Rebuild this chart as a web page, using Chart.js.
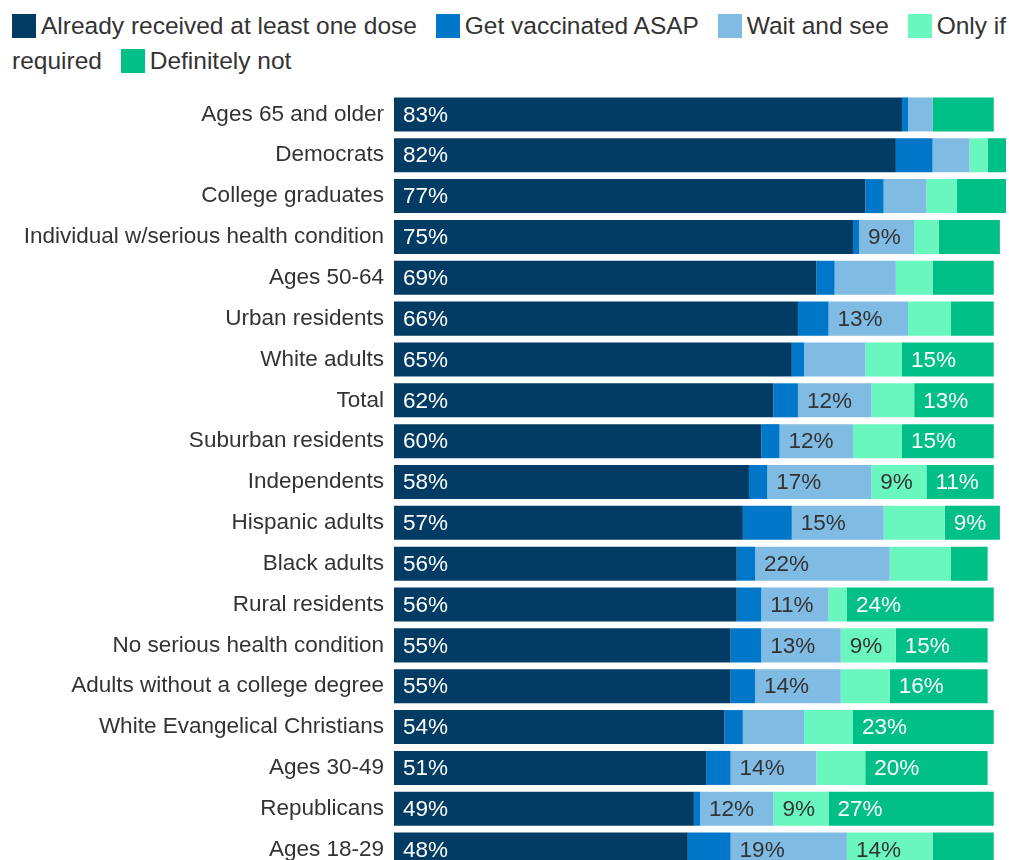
<!DOCTYPE html>
<html>
<head>
<meta charset="utf-8">
<script src="https://cdn.jsdelivr.net/npm/chart.js@4.4.1/dist/chart.umd.min.js"></script>
<style>
  html, body { margin: 0; padding: 0; background: #fff; overflow: hidden; }
  body { width: 1009px; height: 860px; position: relative; font-family: "Liberation Sans", Arial, sans-serif; }
  #legend { position: absolute; left: 12px; top: 8px; width: 1010px; font-size: 24.5px; line-height: 35px; color: #333; }
  #legend .item { margin-right: 12px; }
  #legend .sw { display: inline-block; width: 24px; height: 24px; vertical-align: -4px; margin-right: 5px; }
  #wrap { position: absolute; left: 0; top: 94px; width: 1009px; height: 776px; }
</style>
</head>
<body>
<div id="legend"></div>
<div id="wrap"><canvas id="chart" width="1009" height="776"></canvas></div>
<script>
// kategori (baris) dari atas ke bawah
const categories = [
  'Ages 65 and older', 'Democrats', 'College graduates', 'Individual w/serious health condition',
  'Ages 50-64', 'Urban residents', 'White adults', 'Total', 'Suburban residents', 'Independents',
  'Hispanic adults', 'Black adults', 'Rural residents', 'No serious health condition',
  'Adults without a college degree', 'White Evangelical Christians', 'Ages 30-49', 'Republicans', 'Ages 18-29'
];

const seriesNames = ['Already received at least one dose', 'Get vaccinated ASAP', 'Wait and see', 'Only if required', 'Definitely not'];
const seriesColors = ['#023b64', '#0077c8', '#80bbe3', '#69f7bf', '#00bf87'];
const labelColors = ['#ffffff', '#ffffff', '#333333', '#333333', '#ffffff'];

const alreadyReceived = [83, 82, 77, 75, 69, 66, 65, 62, 60, 58, 57, 56, 56, 55, 55, 54, 51, 49, 48];
const vaccinateAsap   = [1, 6, 3, 1, 3, 5, 2, 4, 3, 3, 8, 3, 4, 5, 4, 3, 4, 1, 7];
const waitAndSee      = [4, 6, 7, 9, 10, 13, 10, 12, 12, 17, 15, 22, 11, 13, 14, 10, 14, 12, 19];
const onlyIfRequired  = [0, 3, 5, 4, 6, 7, 6, 7, 8, 9, 10, 10, 3, 9, 8, 8, 8, 9, 14];
const definitelyNot   = [10, 3, 8, 10, 10, 7, 15, 13, 15, 11, 9, 6, 24, 15, 16, 23, 20, 27, 10];

const seriesValues = [alreadyReceived, vaccinateAsap, waitAndSee, onlyIfRequired, definitelyNot];

const FONT = '"Liberation Sans", Arial, sans-serif';

// legenda HTML supaya bisa membungkus seperti aslinya
const legend = document.getElementById('legend');
seriesNames.forEach((name, i) => {
  const span = document.createElement('span');
  span.className = 'item';
  span.innerHTML = '<span class="sw" style="background:' + seriesColors[i] + '"></span>' + name;
  legend.appendChild(span);
  legend.appendChild(document.createTextNode(' '));
});

// label persen di dalam batang, hanya jika muat
const barLabels = {
  id: 'barLabels',
  afterDatasetsDraw(chart) {
    const ctx = chart.ctx;
    ctx.save();
    ctx.font = '22.5px ' + FONT;
    ctx.textBaseline = 'middle';
    ctx.textAlign = 'left';
    chart.data.datasets.forEach((ds, di) => {
      const meta = chart.getDatasetMeta(di);
      meta.data.forEach((bar, i) => {
        const v = ds.data[i];
        if (!v) return;
        const txt = v + '%';
        const w = Math.abs(bar.x - bar.base);
        if (w - ctx.measureText(txt).width < 19.5) return;
        ctx.fillStyle = labelColors[di];
        ctx.fillText(txt, Math.min(bar.x, bar.base) + 9, bar.y + 1);
      });
    });
    ctx.restore();
  }
};

const ctx = document.getElementById('chart').getContext('2d');
new Chart(ctx, {
  type: 'bar',
  data: {
    labels: categories,
    datasets: seriesNames.map((name, i) => ({
      label: name,
      data: seriesValues[i],
      backgroundColor: seriesColors[i],
      borderWidth: 0,
      barPercentage: 0.833,
      categoryPercentage: 1
    }))
  },
  options: {
    indexAxis: 'y',
    responsive: false,
    animation: false,
    layout: { padding: { left: 0, right: 3, top: 0, bottom: 0 } },
    plugins: {
      legend: { display: false },
      tooltip: { enabled: false }
    },
    scales: {
      x: { stacked: true, min: 0, max: 100, display: false },
      y: {
        stacked: true,
        grid: { display: false, drawTicks: false },
        border: { display: false },
        ticks: { color: '#333', font: { family: FONT, size: 22.5 }, padding: 10, autoSkip: false },
        afterFit(scale) {
          scale.width = 394;
          scale.paddingTop = 0;
          scale.paddingBottom = 0;
        }
      }
    }
  },
  plugins: [barLabels]
});
</script>
</body>
</html>
